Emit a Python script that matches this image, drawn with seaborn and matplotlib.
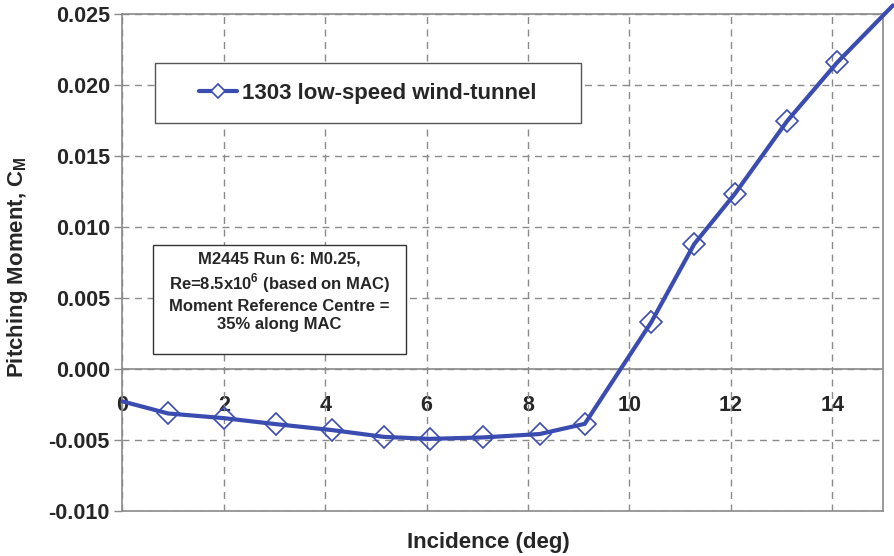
import numpy as np
import pandas as pd
import seaborn as sns
import matplotlib.pyplot as plt
from matplotlib.lines import Line2D
from matplotlib.patches import Rectangle

sns.set_theme(style="white")
plt.rcParams["font.family"] = ["Liberation Sans", "DejaVu Sans"]
plt.rcParams["mathtext.fontset"] = "custom"
plt.rcParams["mathtext.rm"] = "Liberation Sans"
plt.rcParams["mathtext.bf"] = "Liberation Sans:bold"

# values
incidence = [0.0, 0.90, 2.0, 3.02, 4.13, 5.16, 6.06, 7.11, 8.23, 9.12,
             10.43, 11.28, 12.08, 13.11, 14.10, 15.2]
cm = [-0.0023, -0.00315, -0.00348, -0.0039, -0.00432, -0.0048, -0.00494,
      -0.00484, -0.0046, -0.00388, 0.00327, 0.00879, 0.01232, 0.01744,
      0.02158, 0.0256]
x_ticks = [0, 2, 4, 6, 8, 10, 12, 14]
y_ticks = [-0.010, -0.005, 0.000, 0.005, 0.010, 0.015, 0.020, 0.025]
series_name = "1303 low-speed wind-tunnel"
note = ("M2445 Run 6: M0.25,\n"
        r"Re=8.5x10$^{\mathbf{6}}$ (based on MAC)" "\n"
        "Moment Reference Centre =\n"
        "35% along MAC")

BLUE = "#3a4cb0"
GRID = "#8a8a8a"

df = pd.DataFrame({"incidence": incidence, "cm": cm})

fig = plt.figure(figsize=(8.94, 5.56), dpi=100)
ax = fig.add_axes([0.137, 0.0815, 0.8505, 0.8935])

sns.lineplot(data=df, x="incidence", y="cm", ax=ax, color=BLUE, lw=3,
             marker="D", markersize=11, markerfacecolor="none",
             markeredgecolor=BLUE, markeredgewidth=1.2,
             markevery=list(range(1, len(incidence) - 1)),
             clip_on=False, zorder=5)

ax.set_xlim(0, 15)
ax.set_ylim(-0.010, 0.025)
ax.set_xticks(x_ticks)
ax.set_yticks(y_ticks)
ax.set_yticklabels([f"{v:.3f}" for v in y_ticks], fontsize=15.5, fontweight="bold")
ax.tick_params(axis="x", bottom=False, labelbottom=False)
ax.tick_params(axis="y", left=True, length=6, width=1, color=GRID, pad=3)

for s in ax.spines.values():
    s.set_color(GRID)
    s.set_linewidth(1.2)

ax.grid(True, color=GRID, linestyle=(0, (5, 4)), linewidth=1)
ax.axhline(0, color=GRID, lw=1.2, zorder=2)

# x tick labels sit just under the zero line
sec = ax.secondary_xaxis(10 / 35)
sec.set_xticks(x_ticks)
sec.set_xticklabels([str(t) for t in x_ticks], fontsize=15.5, fontweight="bold")
sec.tick_params(axis="x", length=0, pad=19)
sec.spines["bottom"].set_visible(False)
sec.spines["top"].set_visible(False)

ax.set_xlabel("Incidence (deg)", fontsize=16, fontweight="bold")
ax.xaxis.set_label_coords(0.481, -0.042)
ax.set_ylabel(r"Pitching Moment, C$_\mathbf{M}$", fontsize=16, fontweight="bold")
ax.yaxis.set_label_coords(-0.122, 0.49)

# legend box
ax.add_patch(Rectangle((0.0427, 0.78), 0.5603, 0.1208, transform=ax.transAxes,
                       facecolor="white", edgecolor="#555555", lw=1, zorder=6))
handle = Line2D([], [], color=BLUE, lw=3, marker="D", markersize=7,
                markerfacecolor="white", markeredgecolor=BLUE, markeredgewidth=1.2)
leg = ax.legend([handle], [series_name], loc="center", bbox_to_anchor=(0.323, 0.840),
                frameon=False, handlelength=1.7, handletextpad=0.25,
                prop={"size": 16, "weight": "bold"})
leg.set_zorder(7)

# annotation box
ax.add_patch(Rectangle((0.0397, 0.3155), 0.3336, 0.2194, transform=ax.transAxes,
                       facecolor="white", edgecolor="#333333", lw=1, zorder=6))
ax.text(0.2064, 0.441, note, transform=ax.transAxes, ha="center", va="center",
        fontsize=12, fontweight="bold", linespacing=1.3, zorder=7)

fig.savefig("out.png", dpi=100)
